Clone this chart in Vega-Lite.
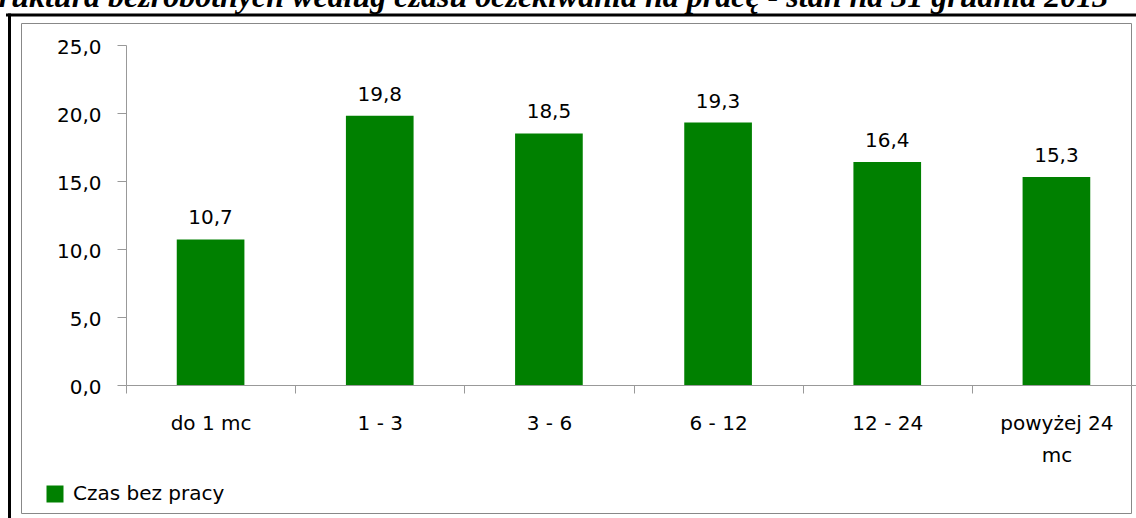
{
  "$schema": "https://vega.github.io/schema/vega-lite/v6.json",
  "width": 1110,
  "height": 490,
  "autosize": {"type": "none"},
  "padding": {"left": 21, "top": 23, "right": 5, "bottom": 5},
  "background": "white",
  "title": {
    "text": "Struktura bezrobotnych według czasu oczekiwania na pracę - stan na 31 grudnia 2013",
    "anchor": "start",
    "frame": "group",
    "font": "Liberation Serif",
    "fontStyle": "italic",
    "fontWeight": "bold",
    "fontSize": 32,
    "color": "black",
    "baseline": "alphabetic",
    "offset": 0,
    "dx": -49,
    "dy": 24.5
  },
  "data": {
    "values": [
      {"okres": "do 1 mc", "wartosc": 10.7},
      {"okres": "1 - 3", "wartosc": 19.8},
      {"okres": "3 - 6", "wartosc": 18.5},
      {"okres": "6 - 12", "wartosc": 19.3},
      {"okres": "12 - 24", "wartosc": 16.4},
      {"okres": "powyżej 24 mc", "wartosc": 15.3}
    ]
  },
  "layer": [
    {
      "encoding": {
        "x": {
          "field": "okres",
          "type": "nominal",
          "sort": null,
          "scale": {"type": "band", "paddingInner": 0, "paddingOuter": 0, "range": [105, 1120]},
          "axis": {
            "orient": "bottom",
            "offset": -128,
            "title": null,
            "labelAngle": 0,
            "labelFont": "DejaVu Sans",
            "labelFontSize": 20,
            "labelColor": "black",
            "labelPadding": 20,
            "labelLineHeight": 32,
            "labelOverlap": false,
            "labelExpr": "datum.label == 'powyżej 24 mc' ? ['powyżej 24', 'mc'] : datum.label",
            "tickBand": "extent",
            "tickSize": 8,
            "tickColor": "#999999",
            "domainColor": "#999999",
            "grid": false
          }
        },
        "y": {
          "field": "wartosc",
          "type": "quantitative",
          "scale": {"domain": [0, 25], "nice": false, "zero": true, "range": [362, 22]},
          "axis": {
            "orient": "left",
            "offset": -105,
            "title": null,
            "values": [0, 5, 10, 15, 20, 25],
            "format": ".1f",
            "labelFont": "DejaVu Sans",
            "labelFontSize": 20,
            "labelColor": "black",
            "labelPadding": 16,
            "labelBaseline": "middle",
            "labelOffset": 2,
            "tickSize": 9,
            "tickColor": "#999999",
            "domainColor": "#999999",
            "grid": false
          }
        }
      },
      "layer": [
        {
          "mark": {"type": "bar", "width": {"band": 0.4}},
          "encoding": {
            "color": {
              "datum": "Czas bez pracy",
              "type": "nominal",
              "scale": {"range": ["#008000"]},
              "legend": {
                "title": null,
                "orient": "none",
                "legendX": 24,
                "legendY": 461,
                "padding": 0,
                "symbolType": "square",
                "symbolSize": 289,
                "symbolStrokeWidth": 0,
                "labelFont": "DejaVu Sans",
                "labelFontSize": 20,
                "labelColor": "black",
                "labelOffset": 8
              }
            }
          }
        },
        {
          "mark": {
            "type": "text",
            "baseline": "alphabetic",
            "align": "center",
            "dy": -15,
            "font": "DejaVu Sans",
            "fontSize": 20,
            "color": "black"
          },
          "encoding": {
            "text": {"field": "wartosc", "type": "quantitative", "format": ".1f"}
          }
        }
      ]
    },
    {
      "mark": {"type": "point", "opacity": 0},
      "encoding": {
        "x": {
          "field": "wartosc",
          "type": "quantitative",
          "scale": {"range": [-14, 1115], "zero": true},
          "axis": {
            "orient": "top",
            "offset": 8.5,
            "title": null,
            "labels": false,
            "ticks": false,
            "grid": false,
            "domainColor": "black",
            "domainWidth": 3,
            "domainCap": "square"
          }
        },
        "y": {
          "field": "wartosc",
          "type": "quantitative",
          "scale": {"range": [495, -8.5], "zero": true},
          "axis": {
            "orient": "left",
            "offset": 12,
            "title": null,
            "labels": false,
            "ticks": false,
            "grid": false,
            "domainColor": "black",
            "domainWidth": 3,
            "domainCap": "square"
          }
        }
      }
    }
  ],
  "resolve": {"scale": {"x": "independent", "y": "independent"}},
  "config": {
    "locale": {
      "number": {"decimal": ",", "thousands": " ", "grouping": [3], "currency": ["", " zł"]}
    },
    "view": {"stroke": "#888888", "strokeWidth": 1},
    "axis": {"grid": false}
  }
}
